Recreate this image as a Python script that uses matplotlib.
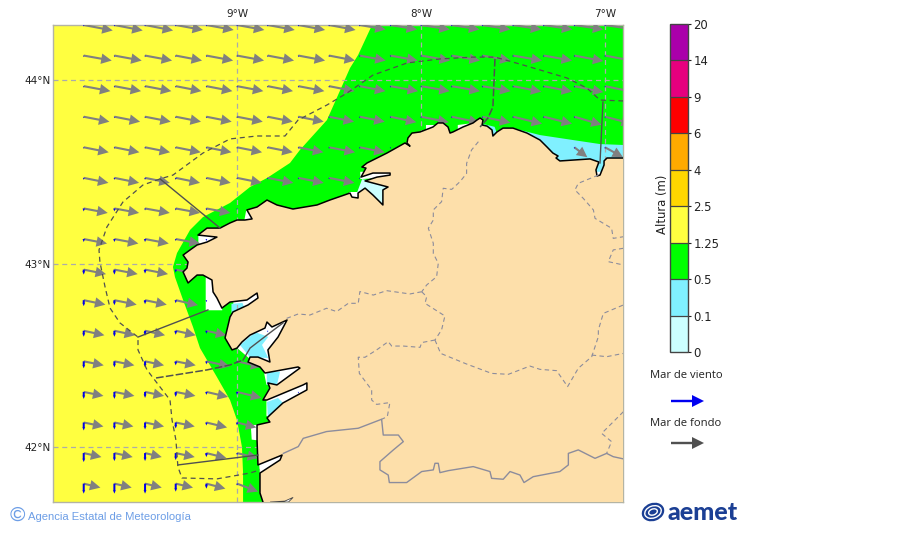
import numpy as np
import matplotlib
matplotlib.use('Agg')
import matplotlib.pyplot as plt
from matplotlib.colors import ListedColormap, BoundaryNorm
from matplotlib.colorbar import ColorbarBase
from matplotlib.patches import Ellipse

N = np.nan

# colour scale
levels = [0, 0.1, 0.5, 1.25, 2.5, 4, 6, 9, 14, 20]
level_labels = ['0', '0.1', '0.5', '1.25', '2.5', '4', '6', '9', '14', '20']
level_colors = ['#ccffff', '#80f0ff', '#00ff00', '#ffff40', '#ffd700',
                '#ffaa00', '#ff0000', '#e6007e', '#aa00aa']

# arrow grid, one value every 1/6 degree
grid_lon = [-9.833 + k / 6 for k in range(18)]
grid_lat = [44.30 - k / 6 for k in range(16)]

# swell (east and south components), missing cells are over land
swell_east = [
    [29, 28.3, 28, 27.3, 27.3, 27.3, 27, 26.7, 26.5, 26, 26.7, 28.7, 27.7, 28, 28.3, 28.7, 29, 29],
    [28, 27.3, 27, 26.3, 26.7, 27, 26.3, 26.7, 26, 26, 27.3, 29, 28.3, 28.3, 29, 28.3, 29, 29],
    [26.7, 26.7, 26.3, 25.7, 26, 26.3, 25.3, 26, 25.5, 25.7, 27.7, 28.7, 28.3, 28.3, 28.3, 28.3, 29, 29],
    [25.7, 25.7, 25.7, 25.3, 25.3, 25.7, 25, 25.3, 25, 25, 26, 27.7, 28, 28, 29, 28.3, 27.3, 27],
    [25, 25, 25, 25, 25, 25, 25, 25, 26, 25, N, N, N, N, N, N, 13, 18],
    [24.7, 24.7, 24.7, 24.3, 24.3, 24.7, 25.7, 25.3, 25.3],
    [24, 24.7, 24.7, 24.3, 24],
    [23.3, 24, 23.7, 24.3],
    [22.3, 23.3, 23, 22],
    [21.7, 22.3, 21.7, 22.3],
    [20.7, 20.7, 20, 20, 20],
    [20, 20, 19, 20, 23.3, 24.3],
    [19.7, 20, 19, 19.7, 21.7, 24.3],
    [19.7, 19, 19, 19, 20.7, 19.3],
    [17.7, 18.3, 16.7, 19, 20, 21],
    [16.7, 17.3, 16.7, 17.3, 19, 21],
]
swell_south = [
    [5.5, 5.5, 5.5, 5, 5, 5, 5, 5, 5, 4.5, 4.5, 4.5, 4.5, 4.5, 4.5, 4.5, 4.5, 4.5],
    [5, 5, 5, 5, 5, 5, 5, 5, 5, 5, 5, 5, 5, 5, 5, 5, 5.5, 5.5],
    [5, 5, 5, 5, 5, 5, 5, 5, 5, 5, 5, 5, 5, 5, 5.5, 5.5, 6, 6],
    [5, 5, 5, 5, 5, 5, 5, 5, 5, 5, 5.5, 5.5, 6, 6, 7, 7, 8, 7],
    [5, 5, 5, 5, 5, 5, 5, 5, 5, 5, N, N, N, N, N, N, 10, 10],
    [5, 5, 5, 5, 5, 5, 5, 5, 5],
    [4.5, 4.5, 4.5, 4.5, 4.5],
    [4.5, 4.5, 4.5, 4.5],
    [4.5, 4.5, 4.5, 4.5],
    [4.5, 4.5, 4.5, 5],
    [4.5, 4.5, 4.5, 4.5, 4.5],
    [4, 4, 4, 4, 5, 5.5],
    [4, 4, 4, 4, 5, 6],
    [4, 4, 4, 4, 5, 5],
    [4, 4, 4, 4, 5, 5],
    [4, 4, 4, 4, 5, 8],
]
# wind sea, southward; cells further east are 1.5
windsea_south = [
    [1.5], [1.5], [1.5], [1.5], [1.5],
    [2, 2, 2, 2],
    [3, 3, 2, 2, 2],
    [3, 3, 3, 2, 2],
    [5, 5, 4, 3, 2],
    [6, 5, 4, 3, 2],
    [6, 6, 5, 4, 3, 2],
    [7, 6, 6, 4, 3, 2],
    [7, 7, 6, 5, 3, 3],
    [8, 7, 7, 6, 3, 3],
    [9, 8, 8, 7, 4, 2],
    [10, 10, 10, 8, 5, 2],
]

# coast, east to south
coast_lon = [-6.90, -6.989, -7.005, -7.005, -7.027, -7.043, -7.049, -7.033, -7.081, -7.174,
             -7.245, -7.266, -7.255, -7.283, -7.315, -7.353, -7.424, -7.500, -7.554, -7.587,
             -7.609, -7.614, -7.641, -7.668, -7.663, -7.679, -7.696, -7.717, -7.772, -7.826,
             -7.842, -7.853, -7.880, -7.908, -7.935, -8.005, -8.049, -8.071, -8.076, -8.060,
             -8.087, -8.185, -8.293, -8.321, -8.299, -8.326, -8.261, -8.168, -8.168, -8.239,
             -8.304, -8.179, -8.207, -8.207, -8.261, -8.304, -8.342, -8.342, -8.375, -8.386,
             -8.495, -8.565, -8.696, -8.783, -8.837, -8.891, -8.946, -8.918, -8.957, -9.000,
             -9.038, -9.092, -9.163, -9.212, -9.109, -9.163, -9.217, -9.255, -9.293, -9.266,
             -9.272, -9.293, -9.266, -9.217, -9.185, -9.136, -9.130, -9.109, -9.082, -9.038,
             -8.946, -8.891, -8.886, -8.940, -9.022, -9.038, -9.065, -9.027, -9.000, -8.973,
             -8.929, -8.848, -8.837, -8.810, -8.728, -8.777, -8.832, -8.821, -8.886, -8.929,
             -8.940, -8.875, -8.848, -8.668, -8.658, -8.783, -8.832, -8.821, -8.859, -8.837,
             -8.641, -8.620, -8.620, -8.750, -8.821, -8.837, -8.821, -8.891, -8.891, -8.886,
             -8.755, -8.766, -8.875, -8.875, -8.859]
coast_lat = [43.575, 43.575, 43.559, 43.537, 43.482, 43.477, 43.510, 43.553, 43.570, 43.564,
             43.559, 43.575, 43.586, 43.602, 43.635, 43.673, 43.711, 43.738, 43.738, 43.717,
             43.695, 43.728, 43.749, 43.755, 43.782, 43.793, 43.782, 43.766, 43.744, 43.717,
             43.711, 43.744, 43.766, 43.766, 43.744, 43.717, 43.711, 43.684, 43.657, 43.640,
             43.657, 43.602, 43.548, 43.526, 43.520, 43.471, 43.493, 43.493, 43.482, 43.471,
             43.450, 43.417, 43.401, 43.319, 43.373, 43.411, 43.384, 43.357, 43.362, 43.384,
             43.346, 43.319, 43.297, 43.319, 43.346, 43.308, 43.292, 43.243, 43.237, 43.237,
             43.221, 43.193, 43.193, 43.155, 43.144, 43.117, 43.101, 43.074, 43.046, 43.008,
             42.975, 42.954, 42.894, 42.937, 42.937, 42.910, 42.845, 42.812, 42.757, 42.790,
             42.801, 42.839, 42.812, 42.774, 42.736, 42.708, 42.594, 42.529, 42.539, 42.572,
             42.610, 42.648, 42.681, 42.654, 42.692, 42.599, 42.529, 42.463, 42.490, 42.490,
             42.463, 42.436, 42.403, 42.436, 42.430, 42.338, 42.349, 42.321, 42.256, 42.256,
             42.338, 42.349, 42.311, 42.240, 42.174, 42.158, 42.136, 42.120, 42.038, 41.902,
             41.956, 41.929, 41.858, 41.749, 41.70]

# edge of the 0.5-1.25 m band (the yellow side)
band_lon = [-8.266, -8.342, -8.386, -8.511, -8.658, -8.712, -8.837, -8.929, -9.038, -9.185,
            -9.255, -9.326, -9.348, -9.337, -9.293, -9.239, -9.201, -9.109, -9.038, -9.000,
            -8.973, -8.967, -8.967, -8.5, -6.90, -6.90]
band_lat = [44.30, 44.136, 44.065, 43.782, 43.619, 43.548, 43.466, 43.417, 43.330, 43.253,
            43.183, 43.057, 42.981, 42.926, 42.801, 42.654, 42.539, 42.381, 42.256, 42.147,
            42.000, 41.858, 41.70, 41.70, 43.3, 44.30]

# 0.1-0.5 m patches
cyan_patches = [
    ([-7.500, -7.462, -7.353, -7.174, -7.027, -6.90, -6.90, -7.5],
     [43.738, 43.728, 43.700, 43.673, 43.651, 43.646, 43.5, 43.5]),
    ([-7.66, -7.60, -7.58, -7.64], [43.76, 43.745, 43.69, 43.69]),
    ([-9.03, -8.97, -8.96, -9.03], [42.78, 42.785, 42.76, 42.73]),
    ([-8.984, -8.90, -8.83, -8.864, -8.83, -8.93], [42.556, 42.626, 42.60, 42.556, 42.485, 42.49]),
    ([-8.838, -8.766, -8.783, -8.838], [42.41, 42.41, 42.338, 42.338]),
    ([-8.837, -8.777, -8.75, -8.82, -8.832], [42.245, 42.267, 42.24, 42.174, 42.158]),
]
# 0-0.1 m, ria heads
pale_patches = [
    ([-8.32, -8.16, -8.19, -8.35], [43.46, 43.43, 43.30, 43.38]),
]
# no data, white
blank_patches = [
    ([-9.17, -9.10, -9.08, -9.17], [42.94, 42.94, 42.745, 42.745]),
    ([-9.02, -8.88, -8.88, -9.02], [42.80, 42.85, 42.80, 42.73]),
    ([-9.0, -8.92, -8.83, -8.72, -8.77, -8.81, -8.93], [42.54, 42.63, 42.69, 42.70, 42.59, 42.46, 42.48]),
    ([-8.86, -8.65, -8.65, -8.78, -8.84], [42.44, 42.44, 42.42, 42.33, 42.34]),
    ([-8.84, -8.60, -8.60, -8.82, -8.84], [42.27, 42.36, 42.30, 42.16, 42.17]),
    ([-8.925, -8.88, -8.88, -8.92], [42.12, 42.12, 42.035, 42.04]),
    ([-8.88, -8.75, -8.76, -8.875], [41.91, 41.96, 41.92, 41.85]),
    ([-7.05, -7.00, -7.02, -7.05], [43.56, 43.56, 43.47, 43.47]),
    ([-7.18, -7.10, -7.06, -7.18], [43.60, 43.60, 43.57, 43.56]),
    ([-7.32, -7.28, -7.30, -7.34], [43.64, 43.61, 43.58, 43.60]),
    ([-7.97, -7.93, -7.93, -7.97], [43.755, 43.755, 43.70, 43.70]),
    ([-7.80, -7.72, -7.72, -7.80], [43.755, 43.765, 43.70, 43.70]),
    ([-8.33, -8.16, -8.16, -8.33], [43.50, 43.50, 43.47, 43.46]),
    ([-8.39, -8.34, -8.34, -8.39], [43.39, 43.39, 43.35, 43.35]),
    ([-8.08, -8.05, -8.05, -8.08], [43.66, 43.68, 43.63, 43.64]),
    ([-9.21, -9.11, -9.16, -9.21], [43.15, 43.15, 43.11, 43.10]),
    ([-8.95, -8.91, -8.96], [43.29, 43.24, 43.235]),
]

# maritime zone limit
zone_lon = [-6.90, -7.027, -7.098, -7.206, -7.353, -7.500, -7.598, -7.717, -7.897, -8.076,
            -8.261, -8.402, -8.511, -8.668, -8.739, -8.891, -9.038, -9.185, -9.348, -9.418,
            -9.511, -9.620, -9.707, -9.750, -9.745, -9.717, -9.690, -9.636, -9.538, -9.538,
            -9.489, -9.435, -9.364, -9.353, -9.332, -9.321, -9.299, -9.109, -8.929, -8.875]
zone_lat = [43.886, 43.891, 43.956, 44.011, 44.055, 44.098, 44.125, 44.125, 44.115, 44.093,
            44.027, 43.929, 43.864, 43.782, 43.695, 43.695, 43.679, 43.602, 43.482, 43.461,
            43.428, 43.335, 43.199, 43.074, 43.008, 42.872, 42.757, 42.676, 42.599, 42.529,
            42.420, 42.349, 42.256, 42.147, 42.038, 41.891, 41.831, 41.826, 41.858, 41.875]

# limits between zones
zone_solid = [
    ([-9.418, -9.092], [43.461, 43.193]),
    ([-9.538, -9.158], [42.599, 42.747]),
    ([-9.321, -8.886], [41.902, 41.956]),
    ([-7.011, -7.027], [43.880, 43.548]),
    ([-8.967, -8.929, -8.837, -8.75], [42.474, 42.539, 42.610, 42.676]),
]
zone_dashed = [
    ([-9.440, -9.163, -9.038, -8.967], [42.376, 42.420, 42.447, 42.474]),
    ([-7.598, -7.609, -7.636, -7.679], [44.115, 43.853, 43.793, 43.744]),
]

# provinces
provinces = [
    ([-7.688, -7.725, -7.752, -7.752, -7.788, -7.833, -7.879, -7.888, -7.933, -7.933, -7.960,
      -7.933, -7.933, -7.906, -7.915, -7.969, -7.996],
     [43.664, 43.619, 43.546, 43.491, 43.446, 43.404, 43.410, 43.337, 43.292, 43.237, 43.192,
      43.110, 43.055, 43.001, 42.928, 42.883, 42.846]),
    ([-7.996, -8.060, -8.187, -8.259, -8.332, -8.341, -8.395, -8.458, -8.513, -8.604, -8.667, -8.730],
     [42.846, 42.834, 42.852, 42.828, 42.847, 42.783, 42.783, 42.738, 42.756, 42.719, 42.725, 42.701]),
    ([-7.996, -7.969, -7.978, -7.870, -7.888, -7.924],
     [42.846, 42.819, 42.783, 42.714, 42.638, 42.583]),
    ([-7.924, -7.996, -8.005, -8.096, -8.159, -8.178, -8.241, -8.304, -8.341, -8.335, -8.268,
      -8.268, -8.241, -8.169, -8.183, -8.214],
     [42.583, 42.569, 42.543, 42.550, 42.550, 42.574, 42.529, 42.489, 42.489, 42.401, 42.311,
      42.256, 42.232, 42.242, 42.165, 42.151]),
    ([-7.924, -7.893, -7.752, -7.616, -7.525, -7.408, -7.353, -7.263, -7.203, -7.145, -7.072,
      -7.036, -7.036, -7.009, -6.900],
     [42.583, 42.510, 42.452, 42.401, 42.396, 42.441, 42.423, 42.416, 42.329, 42.429, 42.492,
      42.601, 42.638, 42.728, 42.774]),
    ([-7.072, -6.991, -6.900], [42.501, 42.492, 42.510]),
    ([-7.036, -7.145, -7.163, -7.118, -7.063, -7.054, -6.964, -6.955, -6.900],
     [43.482, 43.437, 43.401, 43.355, 43.292, 43.246, 43.192, 43.137, 43.146]),
    ([-6.900, -6.955, -6.982, -6.900], [43.083, 43.074, 43.010, 42.992]),
    ([-6.900, -7.018, -6.964, -6.991], [42.192, 42.074, 42.029, 41.965]),
]

# border with Portugal
border_lon = [-8.748, -8.667, -8.640, -8.513, -8.341, -8.214, -8.205, -8.123, -8.096, -8.150,
              -8.223, -8.223, -8.178, -8.172, -8.078, -7.996, -7.933, -7.924, -7.906, -7.897,
              -7.851, -7.716, -7.625, -7.616, -7.553, -7.516, -7.462, -7.440, -7.390, -7.245,
              -7.199, -7.199, -7.145, -7.054, -6.991, -6.955, -6.900]
border_lat = [41.965, 42.002, 42.047, 42.084, 42.102, 42.151, 42.065, 42.065, 42.029, 41.984,
              41.920, 41.875, 41.847, 41.806, 41.806, 41.866, 41.875, 41.911, 41.911, 41.860,
              41.871, 41.893, 41.866, 41.829, 41.824, 41.866, 41.847, 41.806, 41.838, 41.866,
              41.902, 41.965, 41.984, 41.938, 41.965, 41.947, 41.935]

lon_ticks = [-9, -8, -7]
lon_labels = ['9°W', '8°W', '7°W']
lat_ticks = [42, 43, 44]
lat_labels = ['42°N', '43°N', '44°N']

land_color = '#fddfaa'
arrow_gray = '#808080'
line_gray = '#505050'
pixels_per_degree = 184

fig = plt.figure(figsize=(9, 5.33), dpi=100)

ax = fig.add_axes([53 / 900, 31 / 533, 570 / 900, 477 / 533])
ax.set_xlim(-10.0, -6.902)
ax.set_ylim(41.70, 44.30)
ax.set_facecolor(level_colors[3])

ax.fill(band_lon, band_lat, color=level_colors[2], lw=0, zorder=1)
for lons, lats in blank_patches:
    ax.fill(lons, lats, color='white', lw=0, zorder=2)
for lons, lats in pale_patches:
    ax.fill(lons, lats, color=level_colors[0], lw=0, zorder=2.2)
for lons, lats in cyan_patches:
    ax.fill(lons, lats, color=level_colors[1], lw=0, zorder=2.4)

# arrows
lon_mesh, lat_mesh = np.meshgrid(grid_lon, grid_lat)
east = np.full(lon_mesh.shape, np.nan)
south = np.full(lon_mesh.shape, np.nan)
wind = np.full(lon_mesh.shape, 1.5)
for i in range(len(grid_lat)):
    east[i, :len(swell_east[i])] = swell_east[i]
    south[i, :len(swell_south[i])] = swell_south[i]
    wind[i, :len(windsea_south[i])] = windsea_south[i]

ok = ~np.isnan(east)
ax.quiver(lon_mesh[ok], lat_mesh[ok], east[ok], -south[ok], color=arrow_gray, angles='xy',
          scale_units='xy', scale=pixels_per_degree, units='dots', width=2.1,
          headwidth=5, headlength=5, headaxislength=5, zorder=3.5)
# the wind sea stick sits over the start of the swell arrow
ax.quiver(lon_mesh, lat_mesh, np.zeros(wind.shape), -wind, color='#0000e8', angles='xy',
          scale_units='xy', scale=pixels_per_degree, units='dots', width=2.0,
          headwidth=1.5, headlength=1.8, headaxislength=1.6, minlength=0.5, zorder=3.6)

# land on top of the arrows
ax.fill(coast_lon + [-6.90], coast_lat + [41.70], color=land_color, lw=0, zorder=4)
ax.plot(coast_lon, coast_lat, color='black', lw=1.1, zorder=5)
ax.fill([-8.82, -8.74, -8.695, -8.72], [41.70, 41.705, 41.725, 41.70], color='white',
        ec='#444444', lw=0.6, zorder=5)

for lons, lats in provinces:
    ax.plot(lons, lats, color='#8c8c9c', lw=0.8, ls=(0, (4, 3)), zorder=5)
ax.plot(border_lon, border_lat, color='#8c8c9c', lw=1.0, zorder=5)

ax.plot(zone_lon, zone_lat, color=line_gray, lw=0.9, ls=(0, (4, 3)), zorder=6)
for lons, lats in zone_solid:
    ax.plot(lons, lats, color=line_gray, lw=1.0, zorder=6)
for lons, lats in zone_dashed:
    ax.plot(lons, lats, color=line_gray, lw=1.1, ls=(0, (5, 1.5)), zorder=6)

ax.set_xticks(lon_ticks)
ax.set_xticklabels(lon_labels)
ax.set_yticks(lat_ticks)
ax.set_yticklabels(lat_labels)
ax.xaxis.tick_top()
ax.tick_params(axis='x', length=0, labelsize=7.5, pad=4, colors='#222222')
ax.tick_params(axis='y', length=0, labelsize=7.5, pad=2, colors='#222222')
ax.grid(True, color='#ababab', lw=0.9, ls=(0, (4, 3)), zorder=7)
ax.set_axisbelow(False)
for spine in ax.spines.values():
    spine.set_color('#b4b4a4')
    spine.set_linewidth(1.0)

# colour bar
cax = fig.add_axes([670 / 900, (533 - 352) / 533, 18 / 900, 328 / 533])
cb = ColorbarBase(cax, cmap=ListedColormap(level_colors), norm=BoundaryNorm(levels, 9),
                  spacing='uniform', ticks=levels, drawedges=True, orientation='vertical')
cb.ax.set_yticklabels(level_labels)
cb.ax.tick_params(length=2.5, width=0.8, pad=1.5, labelsize=8.4, colors='#222222')
cb.dividers.set_color('#444444')
cb.dividers.set_linewidth(0.9)
cb.outline.set_edgecolor('#444444')
cb.outline.set_linewidth(1.0)
cb.set_label('Altura (m)', fontsize=8.4, color='#222222')
cb.ax.yaxis.set_label_coords(-0.78, 0.45)

# legend, footer and logo are placed in figure pixels
over = fig.add_axes([0, 0, 1, 1], facecolor='none')
over.set_xlim(0, 900)
over.set_ylim(533, 0)
over.axis('off')

over.text(686, 376, 'Mar de viento', family='Open Sans', fontsize=8.1, ha='center', va='center', color='#222222')
over.text(686, 423, 'Mar de fondo', family='Open Sans', fontsize=8.1, ha='center', va='center', color='#222222')
over.arrow(671, 401, 33, 0, width=2.4, head_width=12, head_length=12, length_includes_head=True,
           color='#0000f0', lw=0)
over.arrow(671, 443, 33, 0, width=2.4, head_width=12, head_length=12, length_includes_head=True,
           color='#505050', lw=0)

over.text(17, 515.5, '©', family='Liberation Sans', fontsize=15, ha='center', va='center', color='#6d9ee6')
over.text(28, 516.5, 'Agencia Estatal de Meteorología', family='Liberation Sans', fontsize=8.1,
          ha='left', va='center', color='#6d9ee6')

logo_blue = '#1b3f94'
over.text(667, 512, 'aemet', family='Lato', fontweight='black', fontsize=18, ha='left', va='center',
          color=logo_blue)
over.add_patch(Ellipse((653, 512), 23, 18, angle=-20, fc=logo_blue, ec='none'))
for w, h in [(17, 12), (9, 6)]:
    over.add_patch(Ellipse((653, 512), w, h, angle=-20, fill=False, ec='white', lw=1.0))

fig.savefig('out.png', dpi=100)
